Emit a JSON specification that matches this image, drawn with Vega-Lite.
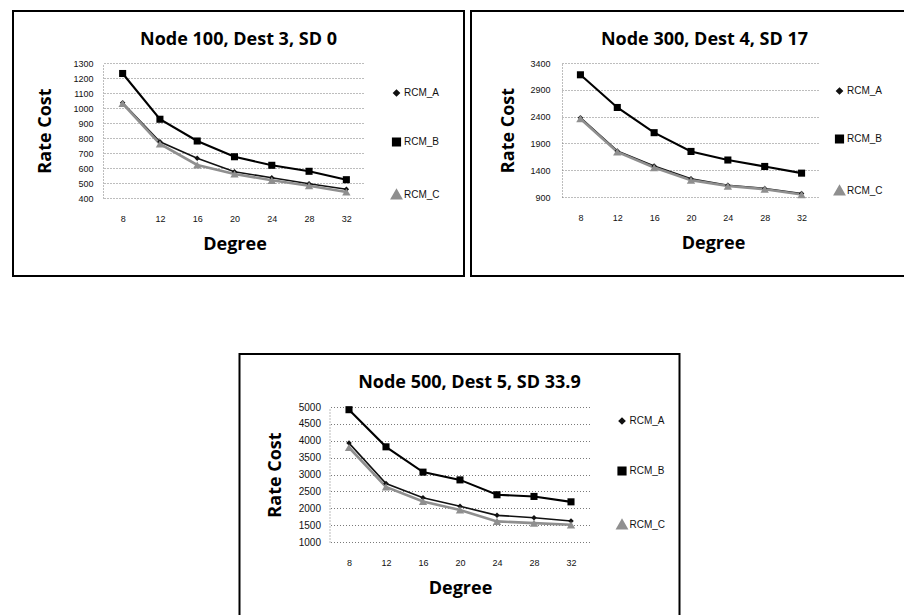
{
  "$schema": "https://vega.github.io/schema/vega-lite/v6.json",
  "background": "white",
  "padding": {"left": 12, "top": 10, "right": 0, "bottom": 0},
  "data": {"values": [
    {"panel":1,"degree":8,"series":"RCM_A","value":1035},{"panel":1,"degree":12,"series":"RCM_A","value":775},{"panel":1,"degree":16,"series":"RCM_A","value":665},{"panel":1,"degree":20,"series":"RCM_A","value":575},{"panel":1,"degree":24,"series":"RCM_A","value":535},{"panel":1,"degree":28,"series":"RCM_A","value":495},{"panel":1,"degree":32,"series":"RCM_A","value":458},
    {"panel":1,"degree":8,"series":"RCM_B","value":1230},{"panel":1,"degree":12,"series":"RCM_B","value":925},{"panel":1,"degree":16,"series":"RCM_B","value":780},{"panel":1,"degree":20,"series":"RCM_B","value":675},{"panel":1,"degree":24,"series":"RCM_B","value":618},{"panel":1,"degree":28,"series":"RCM_B","value":578},{"panel":1,"degree":32,"series":"RCM_B","value":522},
    {"panel":1,"degree":8,"series":"RCM_C","value":1030},{"panel":1,"degree":12,"series":"RCM_C","value":760},{"panel":1,"degree":16,"series":"RCM_C","value":620},{"panel":1,"degree":20,"series":"RCM_C","value":560},{"panel":1,"degree":24,"series":"RCM_C","value":518},{"panel":1,"degree":28,"series":"RCM_C","value":482},{"panel":1,"degree":32,"series":"RCM_C","value":440},
    {"panel":2,"degree":8,"series":"RCM_A","value":2380},{"panel":2,"degree":12,"series":"RCM_A","value":1760},{"panel":2,"degree":16,"series":"RCM_A","value":1480},{"panel":2,"degree":20,"series":"RCM_A","value":1240},{"panel":2,"degree":24,"series":"RCM_A","value":1120},{"panel":2,"degree":28,"series":"RCM_A","value":1060},{"panel":2,"degree":32,"series":"RCM_A","value":965},
    {"panel":2,"degree":8,"series":"RCM_B","value":3180},{"panel":2,"degree":12,"series":"RCM_B","value":2570},{"panel":2,"degree":16,"series":"RCM_B","value":2100},{"panel":2,"degree":20,"series":"RCM_B","value":1750},{"panel":2,"degree":24,"series":"RCM_B","value":1590},{"panel":2,"degree":28,"series":"RCM_B","value":1470},{"panel":2,"degree":32,"series":"RCM_B","value":1345},
    {"panel":2,"degree":8,"series":"RCM_C","value":2360},{"panel":2,"degree":12,"series":"RCM_C","value":1740},{"panel":2,"degree":16,"series":"RCM_C","value":1450},{"panel":2,"degree":20,"series":"RCM_C","value":1215},{"panel":2,"degree":24,"series":"RCM_C","value":1105},{"panel":2,"degree":28,"series":"RCM_C","value":1045},{"panel":2,"degree":32,"series":"RCM_C","value":945},
    {"panel":3,"degree":8,"series":"RCM_A","value":3930},{"panel":3,"degree":12,"series":"RCM_A","value":2730},{"panel":3,"degree":16,"series":"RCM_A","value":2310},{"panel":3,"degree":20,"series":"RCM_A","value":2060},{"panel":3,"degree":24,"series":"RCM_A","value":1790},{"panel":3,"degree":28,"series":"RCM_A","value":1720},{"panel":3,"degree":32,"series":"RCM_A","value":1620},
    {"panel":3,"degree":8,"series":"RCM_B","value":4920},{"panel":3,"degree":12,"series":"RCM_B","value":3820},{"panel":3,"degree":16,"series":"RCM_B","value":3070},{"panel":3,"degree":20,"series":"RCM_B","value":2840},{"panel":3,"degree":24,"series":"RCM_B","value":2400},{"panel":3,"degree":28,"series":"RCM_B","value":2350},{"panel":3,"degree":32,"series":"RCM_B","value":2190},
    {"panel":3,"degree":8,"series":"RCM_C","value":3800},{"panel":3,"degree":12,"series":"RCM_C","value":2630},{"panel":3,"degree":16,"series":"RCM_C","value":2200},{"panel":3,"degree":20,"series":"RCM_C","value":1950},{"panel":3,"degree":24,"series":"RCM_C","value":1610},{"panel":3,"degree":28,"series":"RCM_C","value":1560},{"panel":3,"degree":32,"series":"RCM_C","value":1510}
  ]},
  "vconcat": [
    {
      "hconcat": [
        {
          "width": 451, "height": 265,
          "title": {"text": "Node 100, Dest 3, SD 0", "offset": -38},
          "transform": [{"filter": "datum.panel == 1"}],
          "encoding": {
            "x": {"field": "degree", "type": "ordinal", "scale": {"type": "point", "padding": 0.5, "range": [91, 352]},
                  "axis": {"title": "Degree", "offset": -78, "labelPadding": 16, "titlePadding": 12}},
            "y": {"field": "value", "type": "quantitative", "scale": {"domain": [400, 1300], "range": [187, 52], "nice": false, "zero": false},
                  "axis": {"title": "Rate Cost", "offset": -90, "values": [400,500,600,700,800,900,1000,1100,1200,1300], "format": "d", "labelPadding": 10, "titlePadding": 18}},
            "color": {"field": "series", "type": "nominal", "scale": {"domain": ["RCM_A","RCM_B","RCM_C"], "range": ["#111111","#000000","#8f8f8f"]},
                      "legend": {"title": null, "orient": "none", "legendX": 378, "legendY": 77, "rowPadding": 35}}
          },
          "layer": [
            {"mark": {"type": "line"},
             "encoding": {
               "strokeWidth": {"field": "series", "type": "nominal", "scale": {"domain": ["RCM_A","RCM_B","RCM_C"], "range": [1.6, 2.6, 1.4]}, "legend": null}
             }},
            {"mark": {"type": "point", "filled": true, "opacity": 1},
             "encoding": {
               "shape": {"field": "series", "type": "nominal", "scale": {"domain": ["RCM_A","RCM_B","RCM_C"], "range": ["diamond","square","triangle-up"]},
                         "legend": {"title": null, "orient": "none", "legendX": 378, "legendY": 77, "rowPadding": 35}},
               "size": {"field": "series", "type": "nominal", "scale": {"domain": ["RCM_A","RCM_B","RCM_C"], "range": [30, 70, 40]}, "legend": null}
             }}
          ]
        },
        {
          "width": 435, "height": 265,
          "title": {"text": "Node 300, Dest 4, SD 17", "offset": -38, "dx": 16},
          "transform": [{"filter": "datum.panel == 2"}],
          "encoding": {
            "x": {"field": "degree", "type": "ordinal", "scale": {"type": "point", "padding": 0.5, "range": [91, 349]},
                  "axis": {"title": "Degree", "offset": -79, "labelPadding": 16, "titlePadding": 12, "titleX": 242}},
            "y": {"field": "value", "type": "quantitative", "scale": {"domain": [900, 3400], "range": [186, 52], "nice": false, "zero": false},
                  "axis": {"title": "Rate Cost", "offset": -91, "values": [900,1400,1900,2400,2900,3400], "format": "d", "labelPadding": 12, "titlePadding": 12}},
            "color": {"field": "series", "type": "nominal", "scale": {"domain": ["RCM_A","RCM_B","RCM_C"], "range": ["#111111","#000000","#8f8f8f"]},
                      "legend": {"title": null, "orient": "none", "legendX": 363, "legendY": 75, "rowPadding": 34}}
          },
          "layer": [
            {"mark": {"type": "line"},
             "encoding": {
               "strokeWidth": {"field": "series", "type": "nominal", "scale": {"domain": ["RCM_A","RCM_B","RCM_C"], "range": [1.6, 2.6, 1.4]}, "legend": null}
             }},
            {"mark": {"type": "point", "filled": true, "opacity": 1},
             "encoding": {
               "shape": {"field": "series", "type": "nominal", "scale": {"domain": ["RCM_A","RCM_B","RCM_C"], "range": ["diamond","square","triangle-up"]},
                         "legend": {"title": null, "orient": "none", "legendX": 363, "legendY": 75, "rowPadding": 34}},
               "size": {"field": "series", "type": "nominal", "scale": {"domain": ["RCM_A","RCM_B","RCM_C"], "range": [30, 70, 40]}, "legend": null}
             }}
          ]
        }
      ],
      "spacing": 5,
      "resolve": {"scale": {"color": "independent", "shape": "independent", "size": "independent", "strokeWidth": "independent"}, "legend": {"color": "independent", "shape": "independent"}}
    },
    {
      "width": 440, "height": 262,
      "title": {"text": "Node 500, Dest 5, SD 33.9", "offset": -38, "dx": 10},
      "transform": [{"filter": "datum.panel == 3"}],
      "encoding": {
        "x": {"field": "degree", "type": "ordinal", "scale": {"type": "point", "padding": 0.5, "range": [91, 350]},
              "axis": {"title": "Degree", "offset": -74, "labelPadding": 16, "titlePadding": 12}},
        "y": {"field": "value", "type": "quantitative", "scale": {"domain": [1000, 5000], "range": [188, 53], "nice": false, "zero": false},
              "axis": {"title": "Rate Cost", "offset": -90, "values": [1000,1500,2000,2500,3000,3500,4000,4500,5000], "format": "d", "labelPadding": 9, "titlePadding": 14, "labelFontSize": 10}},
        "color": {"field": "series", "type": "nominal", "scale": {"domain": ["RCM_A","RCM_B","RCM_C"], "range": ["#111111","#000000","#8f8f8f"]},
                  "legend": {"title": null, "orient": "none", "legendX": 377, "legendY": 62, "rowPadding": 36}}
      },
      "layer": [
        {"mark": {"type": "line"},
         "encoding": {
           "strokeWidth": {"field": "series", "type": "nominal", "scale": {"domain": ["RCM_A","RCM_B","RCM_C"], "range": [1.6, 2.6, 1.4]}, "legend": null}
         }},
        {"mark": {"type": "point", "filled": true, "opacity": 1},
         "encoding": {
           "shape": {"field": "series", "type": "nominal", "scale": {"domain": ["RCM_A","RCM_B","RCM_C"], "range": ["diamond","square","triangle-up"]},
                     "legend": {"title": null, "orient": "none", "legendX": 377, "legendY": 62, "rowPadding": 36}},
           "size": {"field": "series", "type": "nominal", "scale": {"domain": ["RCM_A","RCM_B","RCM_C"], "range": [30, 70, 40]}, "legend": null}
         }}
      ]
    }
  ],
  "spacing": 76,
  "center": true,
  "resolve": {"scale": {"color": "independent", "shape": "independent", "size": "independent", "strokeWidth": "independent"}, "legend": {"color": "independent", "shape": "independent"}},
  "config": {
    "font": "Liberation Sans",
    "view": {"stroke": "#000000", "strokeWidth": 2},
    "title": {"font": "Open Sans", "fontSize": 18, "fontWeight": "bold", "color": "#000000", "anchor": "middle", "frame": "group"},
    "axis": {"labelFont": "Liberation Sans", "labelFontSize": 9, "labelColor": "#111111", "titleFont": "Open Sans", "titleFontSize": 18, "titleFontWeight": "bold", "titleColor": "#000000", "ticks": false, "gridColor": "#7a7a7a", "gridDash": [1, 2], "gridWidth": 1},
    "axisX": {"domain": false, "grid": false, "labelAngle": 0},
    "axisY": {"domain": true, "domainColor": "#7a7a7a", "domainDash": [1, 2], "domainWidth": 1, "grid": true},
    "legend": {
      "padding": 0, "labelFont": "Liberation Sans", "labelFontSize": 10, "labelColor": "#111111", "labelOffset": 2, "symbolSize": 576,
      "symbolStrokeWidth": 1.5,
      "symbolType": "stroke"
    }
  }
}
